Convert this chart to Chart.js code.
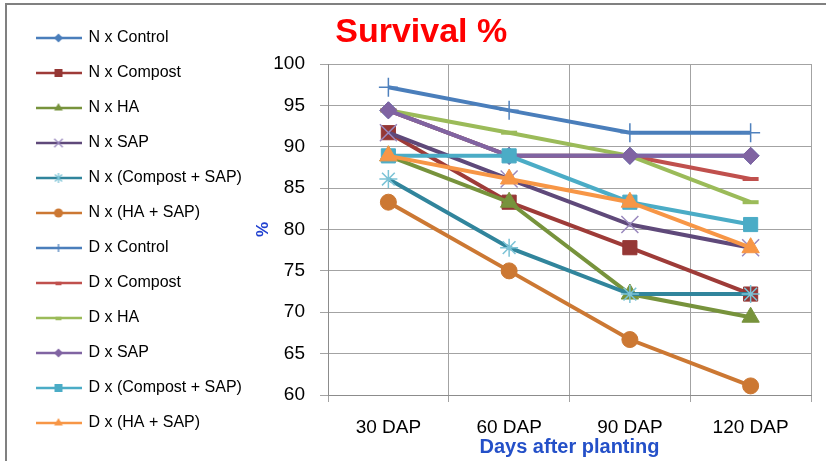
<!DOCTYPE html>
<html><head><meta charset="utf-8">
<script src="https://cdn.jsdelivr.net/npm/chart.js@4.4.1/dist/chart.umd.min.js"></script>
<style>html,body{margin:0;padding:0;background:#fff;}canvas{display:block;}</style>
</head><body>
<canvas id="c" width="826" height="461"></canvas>
<script>
// ---- data ----
const categories = ['30 DAP', '60 DAP', '90 DAP', '120 DAP'];
const yTicks = [60, 65, 70, 75, 80, 85, 90, 95, 100];
const seriesNames = ['N x Control', 'N x Compost', 'N x HA', 'N x SAP', 'N x (Compost + SAP)', 'N x (HA + SAP)',
                     'D x Control', 'D x Compost', 'D x HA', 'D x SAP', 'D x (Compost + SAP)', 'D x (HA + SAP)'];
const nControl     = [94.4, 88.9, 88.9, 88.9];
const nCompost     = [91.7, 83.3, 77.8, 72.2];
const nHA          = [88.9, 83.3, 72.2, 69.4];
const nSAP         = [91.7, 86.1, 80.6, 77.8];
const nCompostSAP  = [86.1, 77.8, 72.2, 72.2];
const nHASAP       = [83.3, 75.0, 66.7, 61.1];
const dControl     = [97.2, 94.4, 91.7, 91.7];
const dCompost     = [94.4, 88.9, 88.9, 86.1];
const dHA          = [94.4, 91.7, 88.9, 83.3];
const dSAP         = [94.4, 88.9, 88.9, 88.9];
const dCompostSAP  = [88.9, 88.9, 83.3, 80.6];
const dHASAP       = [88.9, 86.1, 83.3, 77.8];
const seriesValues = [nControl, nCompost, nHA, nSAP, nCompostSAP, nHASAP,
                      dControl, dCompost, dHA, dSAP, dCompostSAP, dHASAP];

// ---- styles ----
const styles = [
  {line:'#4A7EBB', fill:'#4A7EBB', stroke:'#4A7EBB', shape:'rectRot',  r:8.5, bw:1,   lr:4.5},
  {line:'#9E3B38', fill:'#953735', stroke:'#953735', shape:'rect',     r:10,  bw:1,   lr:4},
  {line:'#77933C', fill:'#77933C', stroke:'#77933C', shape:'triangle', r:10,  bw:1,   lr:5},
  {line:'#5F497A', fill:'#9A88BE', stroke:'#9A88BE', shape:'crossRot', r:12,  bw:1.5, lr:6},
  {line:'#31859C', fill:'#7CC3D6', stroke:'#7CC3D6', shape:'star',     r:9,   bw:1.5, lr:5},
  {line:'#CC7833', fill:'#CC7833', stroke:'#CC7833', shape:'circle',   r:8,   bw:1,   lr:4.5},
  {line:'#4A7EBB', fill:'#4F81BD', stroke:'#4F81BD', shape:'cross',    r:9.5, bw:1.5, lr:5},
  {line:'#C0504D', fill:'#C0504D', stroke:'#C0504D', shape:'line',     r:8,   bw:4,   lr:3},
  {line:'#9BBB59', fill:'#9BBB59', stroke:'#9BBB59', shape:'line',     r:8,   bw:4,   lr:3},
  {line:'#8064A2', fill:'#8064A2', stroke:'#8064A2', shape:'rectRot',  r:8.5, bw:1,   lr:4.5},
  {line:'#4BACC6', fill:'#4BACC6', stroke:'#4BACC6', shape:'rect',     r:10,  bw:1,   lr:4},
  {line:'#F79646', fill:'#F79646', stroke:'#F79646', shape:'triangle', r:10,  bw:1,   lr:5}
];
const FONT = "'Liberation Sans', Arial, sans-serif";
const PAD_L = 17.5;

function drawMark(g, st, x, y) {
  const r = st.lr;
  g.save();
  g.fillStyle = st.fill; g.strokeStyle = st.stroke;
  g.beginPath();
  switch (st.shape) {
    case 'circle': g.arc(x, y, r, 0, Math.PI * 2); g.fill(); break;
    case 'rect': g.fillRect(x - r, y - r, 2 * r, 2 * r); break;
    case 'rectRot': g.moveTo(x - r, y); g.lineTo(x, y - r); g.lineTo(x + r, y); g.lineTo(x, y + r); g.closePath(); g.fill(); break;
    case 'triangle': g.moveTo(x, y - r); g.lineTo(x + r * 0.866, y + r / 2); g.lineTo(x - r * 0.866, y + r / 2); g.closePath(); g.fill(); break;
    case 'cross': g.lineWidth = 1.3; g.moveTo(x - r, y); g.lineTo(x + r, y); g.moveTo(x, y - r * 0.8); g.lineTo(x, y + r * 0.8); g.stroke(); break;
    case 'crossRot': { const d = r * 0.707; g.lineWidth = 1.3; g.moveTo(x - d, y - d); g.lineTo(x + d, y + d); g.moveTo(x + d, y - d); g.lineTo(x - d, y + d); g.stroke(); break; }
    case 'star': { const d = r * 0.707; g.lineWidth = 1.3; g.moveTo(x, y - r); g.lineTo(x, y + r); g.moveTo(x - d, y - d); g.lineTo(x + d, y + d); g.moveTo(x + d, y - d); g.lineTo(x - d, y + d); g.stroke(); break; }
    case 'line': g.lineWidth = 3.5; g.moveTo(x - r, y + 0.5); g.lineTo(x + r, y + 0.5); g.stroke(); break;
  }
  g.restore();
}
function legendImage(st) {
  const c = document.createElement('canvas'); c.width = 46; c.height = 22;
  const g = c.getContext('2d');
  g.strokeStyle = st.line; g.lineWidth = 2.5;
  g.beginPath(); g.moveTo(0, 11); g.lineTo(46, 11); g.stroke();
  drawMark(g, st, 23, 11);
  return c;
}
const legendImages = styles.map(legendImage);

const frame = {
  id: 'frame',
  beforeDraw(chart) {
    const g = chart.ctx; g.save();
    g.fillStyle = '#fff'; g.fillRect(0, 0, chart.width, chart.height);
    g.strokeStyle = '#808080'; g.lineWidth = 2; g.strokeRect(6, 4, 1000, 1000);
    g.restore();
  }
};

const N = seriesNames.length;
const datasets = seriesNames.map((name, i) => ({
  label: name,
  data: seriesValues[i],
  order: N - i,
  borderColor: styles[i].line,
  backgroundColor: styles[i].fill,
  borderWidth: 4,
  tension: 0,
  fill: false,
  pointStyle: styles[i].shape,
  pointRadius: styles[i].r,
  pointHoverRadius: styles[i].r,
  pointBackgroundColor: styles[i].fill,
  pointBorderColor: styles[i].stroke,
  pointBorderWidth: styles[i].bw
}));

new Chart(document.getElementById('c'), {
  type: 'line',
  data: { labels: categories, datasets },
  options: {
    responsive: false, animation: false, devicePixelRatio: 1,
    layout: { padding: { left: PAD_L, right: 1, top: 11, bottom: 1 } },
    plugins: {
      tooltip: { enabled: false },
      title: {
        display: true, text: 'Survival %', color: '#FF0000',
        font: { family: FONT, size: 34, weight: 'bold', lineHeight: 1.2 },
        padding: { top: 1.35, bottom: 10.85 }
      },
      legend: {
        position: 'left', align: 'start', maxWidth: 232.5,
        labels: {
          usePointStyle: true, pointStyleWidth: 44, padding: 19, color: '#000',
          font: { family: FONT, size: 16 },
          generateLabels: (chart) => chart.data.datasets.map((ds, i) => ({
            text: ds.label, pointStyle: legendImages[i], datasetIndex: i,
            hidden: false, lineWidth: 0, strokeStyle: ds.borderColor, fillStyle: ds.borderColor, fontColor: '#000'
          }))
        }
      }
    },
    scales: {
      x: {
        type: 'category', offset: true,
        grid: { offset: true, color: '#a3a3a3', lineWidth: 1, tickLength: 7, tickColor: '#a3a3a3' },
        border: { color: '#8c8c8c', width: 1 },
        ticks: { color: '#000', padding: 14.6, font: { family: FONT, size: 19 } },
        title: { display: true, text: 'Days after planting', color: '#2450C8',
                 font: { family: FONT, size: 20, weight: 'bold', lineHeight: 1.2 }, padding: { top: 0, bottom: 0.3 } },
        afterFit(s) { s.height = 65; }
      },
      y: {
        type: 'linear', position: 'left',
        min: yTicks[0], max: yTicks[yTicks.length - 1],
        ticks: { stepSize: yTicks[1] - yTicks[0], color: '#000', padding: 15, font: { family: FONT, size: 19 } },
        grid: { color: '#a3a3a3', lineWidth: 1, tickLength: 8, tickColor: '#a3a3a3' },
        border: { color: '#8c8c8c', width: 1 },
        title: { display: true, text: '%', color: '#2040D0',
                 font: { family: FONT, size: 17, weight: 'bold', lineHeight: 1.2 }, padding: { top: 2.8, bottom: 0 } },
        afterFit(s) {
          const lw = (s.chart.legend && s.chart.legend.width) ? s.chart.legend.width : 232.5;
          s.width = 328 - PAD_L - lw;
        }
      },
      yR: {
        type: 'linear', position: 'right', min: yTicks[0], max: yTicks[yTicks.length - 1],
        ticks: { display: false }, grid: { display: false, drawTicks: false }, border: { display: false },
        afterFit(s) { s.width = 14; }
      }
    }
  },
  plugins: [frame]
});
</script>
</body></html>
